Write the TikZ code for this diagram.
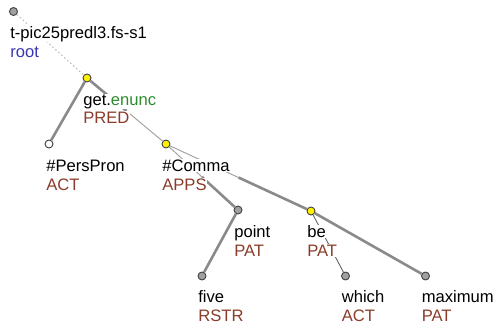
\documentclass[tikz,border=0pt]{standalone}
\usepackage{fontspec}
\setmainfont{Liberation Sans}
\usepackage{tikz}
\usetikzlibrary{calc}
\definecolor{funred}{RGB}{139,60,42}
\definecolor{lemgreen}{RGB}{46,139,46}
\definecolor{rootblue}{RGB}{56,56,176}
\definecolor{edgegray}{RGB}{138,138,138}
\definecolor{thingray}{RGB}{165,165,165}
\definecolor{nodegray}{RGB}{160,160,160}

\begin{document}
\begin{tikzpicture}[x=1pt,y=-1pt,
    tnode/.style={circle,draw=black!75,line width=0.9pt,inner sep=0pt,minimum size=8pt},
    yel/.style={tnode,fill=yellow},
    gry/.style={tnode,fill=nodegray},
    wht/.style={tnode,fill=white},
    lab/.style={anchor=base west,fill=white,inner sep=0.6pt,font=\fontsize{16.6}{19}\selectfont},
    fun/.style={lab,text=funred},
    thickedge/.style={draw=edgegray,line width=2.6pt},
    thinedge/.style={draw=thingray,line width=1pt}]
        \useasboundingbox (0,0) rectangle (495,329);
        % tree nodes
        \node[gry] (root) at (13.5,11.5) {};
        \node[yel] (get) at (87,78) {};
        \node[wht] (perspron) at (49,144) {};
        \node[yel] (comma) at (166,144) {};
        \node[gry] (point) at (238,210) {};
        \node[yel] (be) at (311,211) {};
        \node[gry] (five) at (202,276) {};
        \node[gry] (which) at (345.5,276) {};
        \node[gry] (maximum) at (425.5,276) {};
        % half-way points of the edges
        \coordinate (m-gc) at ($(get)!.5!(comma)$);
        \coordinate (m-cp) at ($(comma)!.5!(point)$);
        \coordinate (m-cb) at ($(comma)!.5!(be)$);
        % edges
        \draw[draw=black!25,line width=1.2pt,dash pattern=on 1.5pt off 2.5pt] (root)--(get);
        \draw[thickedge] (get)--(perspron);
        \draw[thickedge] (get)--(m-gc); \draw[thinedge] (m-gc)--(comma);
        \draw[thinedge] (comma)--(m-cp); \draw[thickedge] (m-cp)--(point);
        \draw[thinedge] (comma)--(m-cb); \draw[thickedge] (m-cb)--(be);
        \draw[thickedge] (point)--(five);
        \draw[draw=black!60,line width=0.9pt] (be)--(which);
        \draw[thickedge] (be)--(maximum);
        % labels
        \node[lab] (root-a) at (9.5,38) {t-pic25predl3.fs-s1};
        \node[lab,text=rootblue] (root-b) at (9.5,57) {root};
        \node[lab] (get-a) at (82.5,105) {get.\textcolor{lemgreen}{enunc}};
        \node[fun] (get-b) at (82.5,123.5) {PRED};
        \node[lab] (perspron-a) at (45.5,171) {\#PersPron};
        \node[fun] (perspron-b) at (45.5,190.5) {ACT};
        \node[lab] (comma-a) at (161.5,171) {\#Comma};
        \node[fun] (comma-b) at (161.5,190.5) {APPS};
        \node[lab] (point-a) at (233.5,237) {point};
        \node[fun] (point-b) at (233.5,256) {PAT};
        \node[lab] (be-a) at (306.5,237.5) {be};
        \node[fun] (be-b) at (306.5,256.5) {PAT};
        \node[lab] (five-a) at (197.5,302) {five};
        \node[fun] (five-b) at (197.5,321.5) {RSTR};
        \node[lab] (which-a) at (341,302) {which};
        \node[fun] (which-b) at (341,321.5) {ACT};
        \node[lab] (maximum-a) at (421,302) {maximum};
        \node[fun] (maximum-b) at (421,321.5) {PAT};
      \end{tikzpicture}
\end{document}
